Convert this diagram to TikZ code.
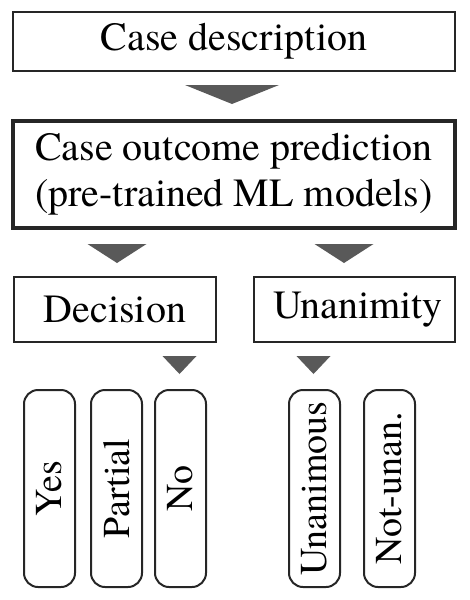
\documentclass[tikz,border=0pt]{standalone}
\usepackage{fontspec}
\setmainfont{texgyretermes}[Extension=.otf, UprightFont=*-regular]
\usepackage{tikz}
\usetikzlibrary{calc,positioning}
\tikzstyle{box}=[
  draw=black!85,
  font={\fontsize{40pt}{46pt}\selectfont},
  inner sep=0pt,
  outer sep=0pt,
  rectangle,
  line width=2pt,
  text centered,
]
\tikzstyle{bigbox}=[
  box,
  line width=4pt,
  align=center,
]
\tikzstyle{pill}=[
  box,
  font={\fontsize{38pt}{44pt}\selectfont},
  minimum width=51pt,
  minimum height=197pt,
  rounded corners=14pt,
]
\tikzstyle{marker}=[
  fill=black!65,
  draw=none,
]
\begin{document}
\begin{tikzpicture}
    \useasboundingbox (0,0) rectangle (469pt,-600pt);
    \node (desc) [box, minimum width=442pt, minimum height=59pt] at (234pt,-41.5pt) {Case description};
    \node (pred) [bigbox, minimum width=442pt, minimum height=107pt, below=50pt of desc] {Case outcome prediction\\(pre-trained ML models)};
    \node (decision) [box, minimum width=202pt, minimum height=65pt, below=49pt of pred.south west, anchor=north west, xshift=1pt] {Decision};
    \node (unanimity) [box, minimum width=201pt, minimum height=65pt, right=38pt of decision] {\hspace{7pt}Unanimity};
    \node (yes) [pill, below=48pt of decision.south west, anchor=north west, xshift=10pt] {\rotatebox{90}{Yes}};
    \node (partial) [pill, right=16pt of yes] {\rotatebox{90}{Partial}};
    \node (no) [pill, right=13pt of partial] {\rotatebox{90}{No}};
    \node (unanimous) [pill, below=48pt of unanimity.south west, anchor=north west, xshift=35pt] {\rotatebox{90}{Unanimous}};
    \node (notunan) [pill, right=24pt of unanimous] {\rotatebox{90}{Not-unan.}};
    % arrow heads between the levels
    \coordinate (T1) at ($(pred.north)+(-2pt,17pt)$);
    \coordinate (T2) at ($(decision.north)+(2pt,14pt)$);
    \coordinate (T3) at ($(unanimity.north)+(-10.5pt,14pt)$);
    \coordinate (T4) at ($(no.north)+(-1pt,16pt)$);
    \coordinate (T5) at ($(unanimous.north)+(-1pt,16pt)$);
    \fill [marker] ($(T1)+(-47pt,19pt)$) -- ($(T1)+(47pt,19pt)$) -- (T1) -- cycle;
    \fill [marker] ($(T2)+(-29.5pt,19pt)$) -- ($(T2)+(29.5pt,19pt)$) -- (T2) -- cycle;
    \fill [marker] ($(T3)+(-29.5pt,19pt)$) -- ($(T3)+(29.5pt,19pt)$) -- (T3) -- cycle;
    \fill [marker] ($(T4)+(-17pt,18pt)$) -- ($(T4)+(17pt,18pt)$) -- (T4) -- cycle;
    \fill [marker] ($(T5)+(-17pt,18pt)$) -- ($(T5)+(17pt,18pt)$) -- (T5) -- cycle;
  \end{tikzpicture}
\end{document}
